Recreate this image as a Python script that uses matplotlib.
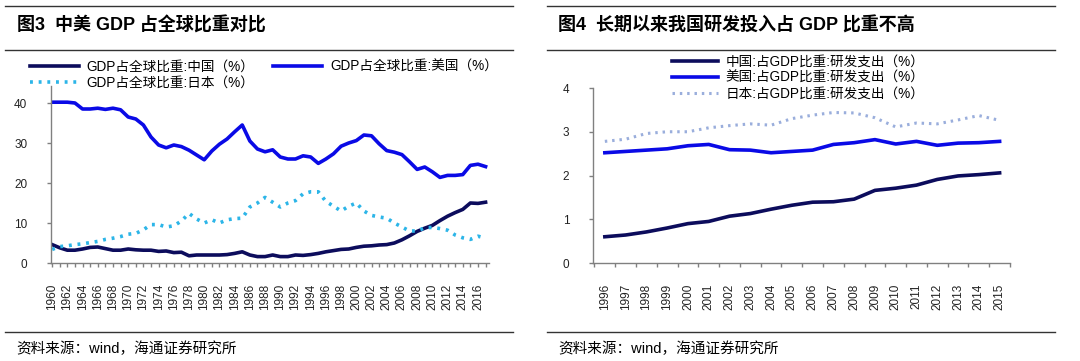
import matplotlib
matplotlib.use("Agg")
import matplotlib.pyplot as plt
from matplotlib.lines import Line2D

plt.rcParams['font.family'] = ['Liberation Sans', 'Noto Sans CJK SC', 'DejaVu Sans']

# ---- data: GDP share of world (%) ----
years_gdp = list(range(1960, 2018))
gdp_cn = [4.6, 3.8, 3.2, 3.2, 3.5, 3.9, 4.0, 3.6, 3.2, 3.2,
          3.5, 3.3, 3.2, 3.2, 2.9, 3.0, 2.6, 2.7, 1.8, 2.0,
          2.0, 2.0, 2.0, 2.1, 2.4, 2.8, 2.0, 1.6, 1.6, 2.0,
          1.6, 1.6, 2.0, 1.9, 2.1, 2.4, 2.8, 3.1, 3.4, 3.5,
          3.9, 4.2, 4.3, 4.5, 4.6, 5.0, 5.8, 6.8, 7.9, 8.7,
          9.4, 10.6, 11.7, 12.6, 13.4, 15.0, 14.9, 15.2]
gdp_us = [40.2, 40.2, 40.2, 40.0, 38.5, 38.5, 38.7, 38.4, 38.7, 38.3,
          36.5, 36.0, 34.5, 31.5, 29.5, 28.8, 29.5, 29.1, 28.2, 27.0,
          25.8, 28.0, 29.7, 31.0, 32.8, 34.5, 30.5, 28.5, 27.8, 28.3,
          26.5, 26.0, 26.0, 26.8, 26.5, 24.9, 26.0, 27.3, 29.2, 30.0,
          30.6, 32.0, 31.8, 29.8, 28.1, 27.7, 27.1, 25.3, 23.4, 24.0,
          22.8, 21.4, 21.9, 21.9, 22.1, 24.4, 24.7, 24.1]
gdp_jp = [3.4, 4.1, 4.3, 4.6, 4.8, 5.1, 5.4, 5.9, 6.2, 6.6,
          7.2, 7.4, 8.3, 9.6, 9.6, 9.0, 9.3, 10.5, 12.4, 11.0,
          10.0, 10.8, 10.0, 10.8, 11.1, 11.2, 14.0, 15.0, 16.4, 15.2,
          14.0, 15.0, 15.6, 17.3, 17.8, 17.8, 15.4, 14.2, 13.0, 14.2,
          15.0, 13.0, 11.9, 11.5, 11.2, 10.0, 9.0, 8.0, 8.0, 8.8,
          8.9, 8.6, 8.2, 7.0, 6.3, 5.9, 6.7, 6.2]

# ---- data: R&D spending share of GDP (%) ----
years_rd = list(range(1996, 2016))
rd_cn = [0.60, 0.64, 0.71, 0.80, 0.90, 0.95, 1.07, 1.13, 1.23, 1.32,
         1.39, 1.40, 1.46, 1.66, 1.71, 1.78, 1.91, 1.99, 2.02, 2.06]
rd_us = [2.52, 2.55, 2.58, 2.61, 2.68, 2.71, 2.59, 2.58, 2.52, 2.55,
         2.58, 2.71, 2.75, 2.82, 2.72, 2.78, 2.69, 2.74, 2.75, 2.78]
rd_jp = [2.78, 2.83, 2.96, 3.00, 3.00, 3.09, 3.14, 3.18, 3.15, 3.30,
         3.38, 3.44, 3.43, 3.32, 3.11, 3.20, 3.18, 3.27, 3.37, 3.26]

W, H = 1080, 361
fig = plt.figure(figsize=(W / 100, H / 100), dpi=100)


def px(x, y):
    return x / W, 1 - y / H


def rule(x0, x1, y):
    a, b = px(x0, y)
    c, _ = px(x1, y)
    fig.add_artist(Line2D([a, c], [b, b], color='#333333', lw=1.0))


def style_axes(ax):
    for s in ['top', 'right']:
        ax.spines[s].set_visible(False)
    for s in ['left', 'bottom']:
        ax.spines[s].set_color('#808080')
        ax.spines[s].set_linewidth(1.0)
    ax.tick_params(axis='both', colors='#808080', labelcolor='#222222',
                   labelsize=8.5, length=3, width=1)
    ax.tick_params(axis='y', pad=14)
    ax.tick_params(axis='x', pad=12)


# ---------- left panel ----------
rule(5, 513, 6)
rule(5, 513, 50)
rule(5, 513, 332)
fig.text(*px(17, 26), '图3  中美 GDP 占全球比重对比', fontsize=13,
         fontweight='bold', va='center', ha='left')
fig.text(*px(16, 349), '资料来源：wind，海通证券研究所', fontsize=10.5,
         va='center', ha='left')

ax1 = fig.add_axes([51 / W, 1 - 263 / H, 438 / W, 177 / H])
l_cn, = ax1.plot(years_gdp, gdp_cn, color='#0c0c5c', lw=2.6,
                 label='GDP占全球比重:中国（%）')
l_us, = ax1.plot(years_gdp, gdp_us, color='#0a0ae6', lw=2.6,
                 label='GDP占全球比重:美国（%）')
l_jp, = ax1.plot(years_gdp, gdp_jp, color='#2cb5e8', lw=2.6,
                 linestyle=(0, (0.8, 1.6)), label='GDP占全球比重:日本（%）')
ax1.set_xlim(1960 - 0.15, 2017.45)
ax1.set_ylim(0, 44.25)
ax1.set_yticks([0, 10, 20, 30, 40])
ax1.set_xticks(years_gdp[::2])
ax1.set_xticks(years_gdp, minor=True)
ax1.set_xticklabels([str(y) for y in years_gdp[::2]], rotation=90)
style_axes(ax1)
ax1.tick_params(axis='x', which='minor', colors='#808080', length=3, width=1)

fig.legend([l_cn, l_jp, l_us],
           [l_cn.get_label(), l_jp.get_label(), l_us.get_label()],
           ncol=2, loc='upper left', bbox_to_anchor=px(30, 60),
           frameon=False, fontsize=9.8, handlelength=3.6,
           handletextpad=0.55, columnspacing=1.4, borderpad=0,
           borderaxespad=0, labelspacing=0.15)

# ---------- right panel ----------
rule(547, 1055, 6)
rule(547, 1055, 50)
rule(547, 1055, 332)
fig.text(*px(558, 26), '图4  长期以来我国研发投入占 GDP 比重不高', fontsize=13,
         fontweight='bold', va='center', ha='left')
fig.text(*px(558, 349), '资料来源：wind，海通证券研究所', fontsize=10.5,
         va='center', ha='left')

ax2 = fig.add_axes([593 / W, 1 - 263 / H, 417 / W, 175 / H])
r_cn, = ax2.plot(years_rd, rd_cn, color='#0c0c5c', lw=2.6,
                 label='中国:占GDP比重:研发支出（%）')
r_us, = ax2.plot(years_rd, rd_us, color='#0a0ae6', lw=2.6,
                 label='美国:占GDP比重:研发支出（%）')
r_jp, = ax2.plot(years_rd, rd_jp, color='#9aaedc', lw=2.2,
                 linestyle=(0, (0.8, 1.6)), label='日本:占GDP比重:研发支出（%）')
ax2.set_xlim(1995.43, 2015.38)
ax2.set_ylim(0, 4)
ax2.set_yticks([0, 1, 2, 3, 4])
ax2.set_xticks(years_rd)
ax2.set_xticklabels([str(y) for y in years_rd], rotation=90)
ax2.set_xticks([y - 0.5 for y in years_rd] + [2015.5], minor=True)
style_axes(ax2)
ax2.tick_params(axis='x', which='major', length=0, pad=15)
ax2.tick_params(axis='x', which='minor', colors='#808080', length=3, width=1)

fig.legend([r_cn, r_us, r_jp],
           [r_cn.get_label(), r_us.get_label(), r_jp.get_label()],
           loc='upper left', bbox_to_anchor=px(672, 55),
           frameon=False, fontsize=9.8, handlelength=3.4,
           handletextpad=0.55, borderpad=0, borderaxespad=0,
           labelspacing=0.15)

fig.savefig('out.png', dpi=100)
